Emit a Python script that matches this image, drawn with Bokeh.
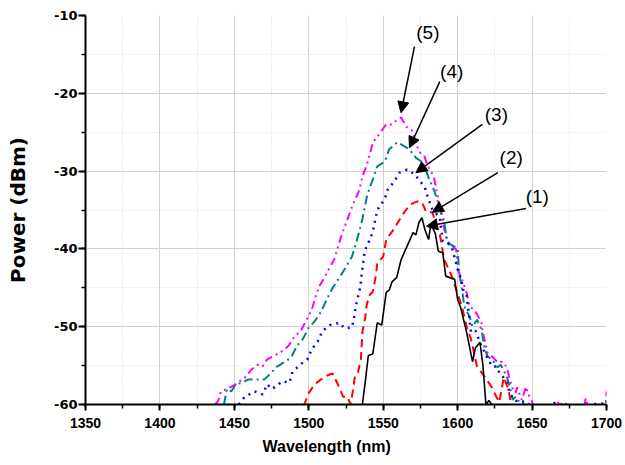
from bokeh.plotting import figure
from bokeh.models import (SingleIntervalTicker, FixedTicker, Arrow, NormalHead,
                          ColumnDataSource, Range1d, PrintfTickFormatter, Title)
from bokeh.core.properties import value
from bokeh.embed import file_html
from bokeh.resources import INLINE

# ---- data: (wavelength nm, power dBm) ----
curve1 = [(1536, -60), (1538, -57), (1540, -53.7), (1543, -53.5), (1546, -49.5), (1549, -49.8),
          (1552, -45.6), (1554, -45.3), (1556, -44.2), (1559, -43.7), (1562, -41.4), (1565, -40.1),
          (1568, -38.8), (1570, -37.9), (1572, -38.2), (1574, -36.6), (1576, -36.0), (1578, -37.5),
          (1580.5, -38.8), (1582, -36.8), (1585, -38.0), (1587, -40.3), (1590, -40.5), (1592, -43.5),
          (1595, -43.7), (1598, -43.9), (1600, -46.5), (1602, -47.5), (1606, -50.7), (1610, -54.5),
          (1612, -52.7), (1615, -52.0), (1617, -55), (1619, -60), (1621, -59.5), (1623, -60)]

curve2 = [(1496, -60), (1497, -60), (1500, -58.5), (1504, -57.4), (1508, -56.8), (1512, -56.3),
          (1516, -56), (1519, -57.2), (1521, -58), (1523, -59), (1526, -59), (1528, -60), (1529, -59),
          (1531, -56.4), (1533, -55.9), (1535, -54.2), (1536, -50.7), (1538, -48.7), (1539, -47.1),
          (1541, -45.9), (1543, -45.5), (1545, -43.5), (1546, -41.8), (1550, -41), (1552, -38.8),
          (1557, -37.5), (1563, -35.6), (1568, -34.3), (1573, -33.9), (1576, -34), (1579, -35.3),
          (1583, -35.3), (1586, -37.1), (1588, -38.1), (1591, -41.4), (1594, -42.6), (1596, -43.5),
          (1599, -45.2), (1603, -47.5), (1606, -50), (1609, -51.6), (1613, -55.1), (1618, -56.4),
          (1623, -57.8), (1626, -59), (1628, -59.7), (1631, -56.5), (1634, -58), (1636, -60),
          (1640, -60.5), (1672, -60.5), (1673, -59.8), (1675, -60.5)]

curve3 = [(1453, -60), (1457, -59), (1460, -58.7), (1463.5, -58.3), (1469, -58.7), (1472, -57.4),
          (1475, -58), (1478, -57.7), (1482, -57), (1487, -57.2), (1489, -55.8), (1496, -54.6),
          (1499, -54.2), (1502, -52.9), (1506, -51.9), (1509, -50.6), (1514, -49.8), (1520.6, -49.5),
          (1524, -50.2), (1529, -50.1), (1530.6, -48.7), (1531.5, -47.4), (1533, -46.2), (1534.7, -44.8),
          (1535.5, -43.3), (1536.5, -41.8), (1537.5, -40.3), (1541, -38.8), (1543, -37.8), (1546, -35),
          (1551, -33.6), (1553, -32.4), (1557.5, -31.3), (1561, -30.2), (1566, -29.8), (1571, -30.4),
          (1574, -31.1), (1578, -32.1), (1580, -33.4), (1583, -34.9), (1588, -36), (1590, -39),
          (1593, -39.2), (1596, -39.7), (1600, -42.6), (1602.5, -44), (1604, -45.5), (1606, -46),
          (1609, -50.7), (1612, -50.5), (1616, -52.5), (1619, -53.6), (1623, -55.1), (1626, -55.1),
          (1628, -55.9), (1630, -56.3), (1633, -57.2), (1635, -58.5), (1638, -59.4), (1641, -59.7),
          (1646, -59.6), (1648, -60), (1660, -60.5), (1665, -59.8), (1680, -60.5), (1695, -59.8),
          (1700, -60)]

curve4 = [(1443, -60), (1445, -58), (1448, -58.3), (1451, -57.4), (1455.5, -57.2), (1459, -56.8),
          (1463.5, -56.8), (1470, -56.8), (1475, -55.9), (1478, -55.2), (1484, -54.5), (1488, -54),
          (1492, -52.5), (1496, -51.6), (1500, -50.1), (1504, -49.3), (1508.5, -48), (1512, -46.5),
          (1516, -45), (1520.6, -43.7), (1525, -42.3), (1529, -41), (1533, -38.4), (1536, -36.2),
          (1539, -33.3), (1541, -32.1), (1543, -31.1), (1546, -29.4), (1551, -28.8), (1554, -27.2),
          (1559.5, -26.3), (1564, -26.8), (1567.6, -27.2), (1572, -28.3), (1576, -28.8), (1579, -30),
          (1581, -31.1), (1584, -32.4), (1586, -33.5), (1589, -35.3), (1591, -36.5), (1593, -39.2),
          (1598, -39.7), (1600, -40), (1601, -43), (1603, -45.2), (1604.5, -47.4), (1608, -48.7),
          (1610, -50), (1613, -49.1), (1616, -50.4), (1618, -52.7), (1620, -53.8), (1623, -54.2),
          (1626.7, -55.2), (1629, -54.9), (1633, -56.4), (1635, -57.7), (1637, -59.4), (1639, -59),
          (1641.5, -59.7), (1645, -60), (1660, -60.5), (1699.5, -60.5), (1700, -59)]

curve5 = [(1437, -60), (1439, -59.6), (1441, -58.3), (1445, -58), (1451, -57.4), (1455, -56.8),
          (1458, -56.4), (1461.5, -55.5), (1465.5, -54.9), (1469, -55.1), (1472, -54.2), (1478, -53.6),
          (1484, -52.9), (1487, -52.3), (1490, -51.4), (1495, -50.4), (1498, -49.3), (1502, -47.8),
          (1505, -45.9), (1507, -44.8), (1510.5, -43.7), (1514, -42.4), (1517, -41.4), (1520, -39.5),
          (1522.6, -37.9), (1526, -36.2), (1529, -34.6), (1534, -32.4), (1536, -30.7), (1539, -29.2),
          (1541, -27.9), (1543, -26.3), (1546, -25.6), (1552, -24), (1555.5, -24), (1559.5, -23.4),
          (1562, -23.1), (1565.5, -24.3), (1569, -24.7), (1572, -26.3), (1574, -27.5), (1577.7, -28.1),
          (1580, -29.4), (1584, -30.7), (1585.7, -32.4), (1587, -33.5), (1590, -36.6), (1593, -39),
          (1599, -40.1), (1600, -42.6), (1603, -44), (1606, -45.6), (1608, -47.4), (1611, -47.8),
          (1613, -48.4), (1616, -49.5), (1617, -50.8), (1620, -53.3), (1623, -53.8), (1627, -54.6),
          (1630, -54.5), (1633, -55.2), (1635, -56.8), (1637, -58), (1639, -58.5), (1640, -57.8),
          (1643, -59.4), (1646, -57.7), (1647, -58.5), (1650, -59.6), (1651, -60.5), (1666, -60.5),
          (1668, -59.5), (1670, -60.5), (1685, -60.5), (1686, -59.2), (1688, -60.5), (1699.5, -60.5),
          (1700, -58.3)]

ann_text = ["(1)", "(2)", "(3)", "(4)", "(5)"]
ann_label_x = [1653.5, 1636, 1626, 1596, 1580]
ann_label_y = [-33.3, -28.3, -22.7, -17.2, -12.2]
ann_tail_x = [1646, 1627, 1616.6, 1588, 1571]
ann_tail_y = [-34.8, -30.2, -24, -18.5, -14]
ann_head_x = [1579, 1583, 1572, 1567.6, 1562]
ann_head_y = [-37.1, -35.3, -30.2, -27, -22.5]

x_ticks_interval = 50
y_ticks_interval = 10

FONT = "Liberation Sans"

p = figure(width=623, height=463, output_backend="svg", toolbar_location=None,
           x_range=Range1d(1350, 1700), y_range=Range1d(-60, -10),
           min_border_left=85, min_border_right=17, min_border_top=15, min_border_bottom=59)
p.outline_line_color = None
p.background_fill_color = "white"
p.border_fill_color = "white"

xt = SingleIntervalTicker(interval=x_ticks_interval, num_minor_ticks=2)
yt = SingleIntervalTicker(interval=y_ticks_interval, num_minor_ticks=2)
p.xaxis.ticker = xt
p.yaxis.ticker = yt
p.xaxis.formatter = PrintfTickFormatter(format="%d")
p.yaxis.formatter = PrintfTickFormatter(format="%d")

p.xgrid.ticker = xt
p.ygrid.ticker = FixedTicker(ticks=[-60, -50, -40, -30, -20],
                             minor_ticks=[-55, -45, -35, -25, -15])
for g in (p.xgrid, p.ygrid):
    g.grid_line_color = "#d0d0d0"
    g.grid_line_width = 1
    g.minor_grid_line_color = "#dcdcdc"
    g.minor_grid_line_dash = "1 2"
    g.minor_grid_line_width = 1

for ax in (p.xaxis, p.yaxis):
    ax.axis_line_color = "black"
    ax.axis_line_width = 2
    ax.major_tick_line_color = "black"
    ax.major_tick_line_width = 2
    ax.minor_tick_line_color = "black"
    ax.minor_tick_line_width = 1.5
    ax.major_tick_in = 0
    ax.minor_tick_in = 0
    ax.major_label_text_font_style = "bold"
    ax.major_label_text_color = "black"
    ax.axis_label_text_font_style = "bold"
    ax.axis_label_text_color = "black"

p.xaxis.major_label_text_font = FONT
p.xaxis.major_label_text_font_size = "14px"
p.xaxis.major_tick_out = 6
p.xaxis.minor_tick_out = 4
p.xaxis.major_label_standoff = 7

p.yaxis.major_label_text_font = "DejaVu Sans"
p.yaxis.major_label_text_font_size = "13px"
p.yaxis.major_tick_out = 7
p.yaxis.minor_tick_out = 4
p.yaxis.major_label_standoff = 1
p.yaxis.axis_label = "Power (dBm)"
p.yaxis.axis_label_text_font = "DejaVu Sans"
p.yaxis.axis_label_text_font_size = "20px"
p.yaxis.axis_label_standoff = 21

# x-axis title, slightly left of the frame centre as in the reference
p.add_layout(Title(text="Wavelength (nm)", align="left", offset=177, standoff=11,
                   text_font=FONT, text_font_size="16px", text_font_style="bold",
                   text_color="black"), "below")


def src(c):
    return ColumnDataSource(dict(x=[a for a, b in c], y=[b for a, b in c]))


p.line("x", "y", source=src(curve5), line_color="#ff00ff", line_width=2, line_dash="8 4 2 4 2 4")
p.line("x", "y", source=src(curve4), line_color="#008080", line_width=2, line_dash="9 4 2 4")
p.line("x", "y", source=src(curve3), line_color="#0000ff", line_width=2.5, line_dash="2 5")
p.line("x", "y", source=src(curve2), line_color="#ff0000", line_width=2, line_dash="8 5")
p.line("x", "y", source=src(curve1), line_color="black", line_width=1.6)

for tx, ty, hx, hy in zip(ann_tail_x, ann_tail_y, ann_head_x, ann_head_y):
    p.add_layout(Arrow(x_start=tx, y_start=ty, x_end=hx, y_end=hy, line_width=1.5,
                       line_color="black",
                       end=NormalHead(size=11, fill_color="black", line_color="black")))

p.text(x=ann_label_x, y=ann_label_y, text=ann_text, text_font=value(FONT),
       text_font_size="19px", text_color="black", text_align="center",
       text_baseline="middle")

open("out.html", "w").write(file_html(p, INLINE))
